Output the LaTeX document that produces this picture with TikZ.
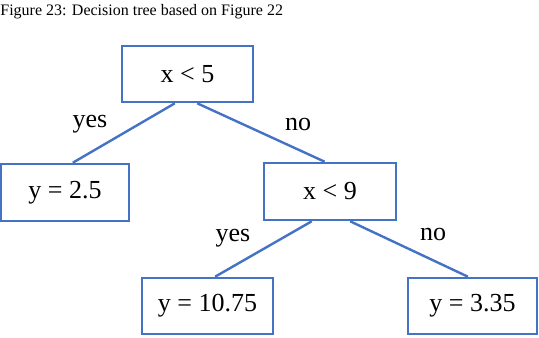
\documentclass[tikz,border=0pt]{standalone}
\usepackage{fontspec}
\setmainfont{Liberation Serif}
\usepackage{tikz}
\usetikzlibrary{calc}
\definecolor{wordblue}{RGB}{68,114,196}

\begin{document}
\begin{tikzpicture}[x=0.5pt, y=-0.5pt,
  box/.style={draw=wordblue, line width=1.3pt, inner sep=0pt, font=\fontsize{13}{15}\selectfont},
  edge/.style={draw=wordblue, line width=1.2pt},
  lbl/.style={font=\fontsize{13}{15}\selectfont, inner sep=0pt}]
\useasboundingbox (0,0) rectangle (539,337);
\node[anchor=base west, inner sep=0pt, font=\fontsize{8}{10}\selectfont] (title) at (0,16) {Figure 23: Decision tree based on Figure 22};
% tree nodes
\node[box, minimum width=65.5pt, minimum height=28pt] (root) at (187.5,74) {x < 5};
\node[box, minimum width=64pt, minimum height=28.5pt] (leafa) at (65,192.5) {y = 2.5};
\node[box, minimum width=66pt, minimum height=28.5pt] (split) at (330,191.5) {x < 9};
\node[box, minimum width=65.5pt, minimum height=28pt] (leafb) at (207.5,306) {y = 10.75};
\node[box, minimum width=64.5pt, minimum height=28pt] (leafc) at (472.5,306) {y = 3.35};
% branches
\draw[edge] ($(root.south west)!0.405!(root.south east)$) -- ($(leafa.north west)!0.56!(leafa.north east)$);
\draw[edge] ($(root.south west)!0.573!(root.south east)$) -- ($(split.north west)!0.46!(split.north east)$);
\draw[edge] ($(split.south west)!0.364!(split.south east)$) -- ($(leafb.north west)!0.557!(leafb.north east)$);
\draw[edge] ($(split.south west)!0.65!(split.south east)$) -- ($(leafc.north west)!0.465!(leafc.north east)$);
% branch labels
\node[lbl] (yesa) at (90,124) {yes};
\node[lbl] (noa) at (298,124) {no};
\node[lbl] (yesb) at (233,238) {yes};
\node[lbl] (nob) at (433,234) {no};
\end{tikzpicture}
\end{document}
